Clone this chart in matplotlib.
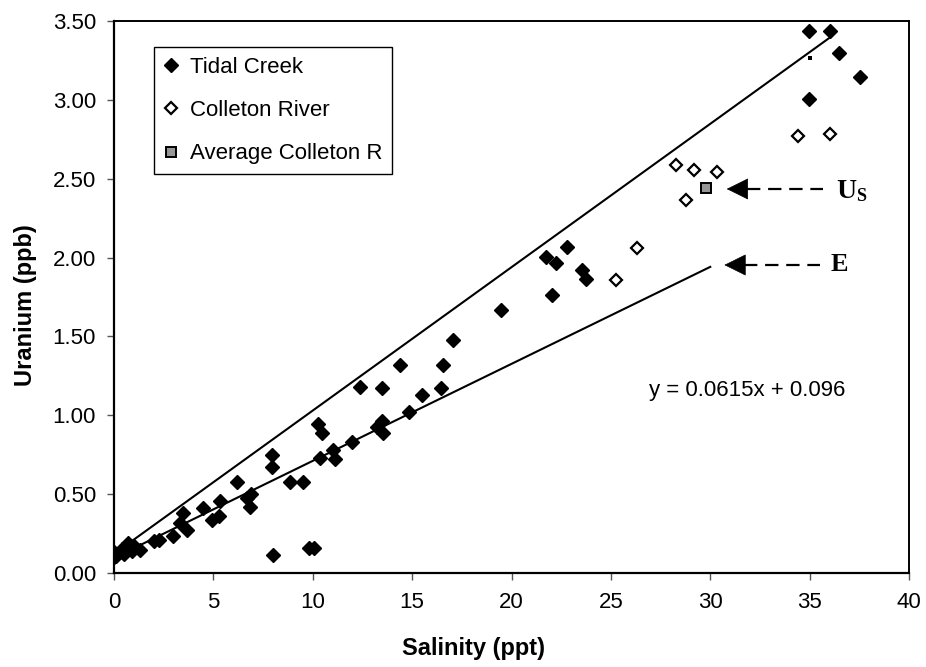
import matplotlib
matplotlib.use("Agg")
import matplotlib.pyplot as plt
from matplotlib.ticker import FormatStrFormatter

plt.rcParams['font.family'] = ['Liberation Sans', 'DejaVu Sans']

# ---------------- data ----------------
tidal_x = [0.0, 0.0, 0.1, 0.3, 0.4, 0.5, 0.6, 0.72, 0.8, 0.9, 1.0, 1.3,
           2.0, 2.25, 2.98, 3.32, 3.49, 3.66, 4.49, 4.95, 5.33, 5.28, 6.17,
           6.68, 6.82, 6.88, 7.93, 7.93, 8.02, 8.86, 9.5, 9.8, 10.08, 10.28,
           10.45, 10.36, 11.0, 11.12, 11.96, 12.38, 13.22, 13.47, 13.55,
           13.47, 14.41, 14.83, 15.48, 16.46, 16.57, 17.07, 19.47, 21.72,
           22.02, 22.24, 22.77, 23.53, 23.75, 34.98, 36.03, 36.49, 37.53,
           34.98]
tidal_y = [0.10, 0.13, 0.11, 0.135, 0.15, 0.12, 0.16, 0.19, 0.15, 0.14,
           0.17, 0.145, 0.20, 0.21, 0.235, 0.315, 0.379, 0.273, 0.415, 0.336,
           0.457, 0.36, 0.575, 0.476, 0.42, 0.50, 0.748, 0.674, 0.114, 0.579,
           0.579, 0.157, 0.157, 0.945, 0.886, 0.727, 0.78, 0.72, 0.833, 1.181,
           0.928, 0.965, 0.886, 1.17, 1.319, 1.024, 1.129, 1.172, 1.319,
           1.477, 1.668, 2.006, 1.763, 1.964, 2.069, 1.921, 1.864, 3.437,
           3.437, 3.30, 3.147, 3.004]

colleton_x = [25.24, 26.3, 28.3, 28.78, 29.18, 30.35, 34.43, 36.03]
colleton_y = [1.858, 2.059, 2.587, 2.365, 2.555, 2.541, 2.771, 2.784]

avg_x = [29.79]
avg_y = [2.439]

stray_x = [35.02]
stray_y = [3.264]

# mixing line (upper) and regression line (lower)
mix_x = [0.3, 36.03]
mix_slope, mix_icept = 0.0909, 0.121
fit_x = [0.0, 30.0]
fit_slope, fit_icept = 0.0615, 0.096
equation = "y = 0.0615x + 0.096"

us_tip = (30.83, 2.435)
us_tail_x = 35.66
e_tip = (30.71, 1.953)
e_tail_x = 35.52

x_ticks = [0, 5, 10, 15, 20, 25, 30, 35, 40]
y_ticks = [0.0, 0.5, 1.0, 1.5, 2.0, 2.5, 3.0, 3.5]

# ---------------- figure ----------------
W, H = 926, 667
fig = plt.figure(figsize=(W / 100, H / 100), dpi=100)
ax = fig.add_axes([114 / W, 1 - 573 / H, (909 - 114) / W, (573 - 21) / H])

ax.set_xlim(0, 40)
ax.set_ylim(0, 3.5)

# lines
ax.plot(mix_x, [mix_slope * v + mix_icept for v in mix_x], color='black', lw=1.5, zorder=2)
ax.plot(fit_x, [fit_slope * v + fit_icept for v in fit_x], color='black', lw=1.5, zorder=2)

# markers
ax.plot(tidal_x, tidal_y, linestyle='none', marker='D', ms=7, mfc='black',
        mec='black', mew=1, label='Tidal Creek', zorder=3)
ax.plot(colleton_x, colleton_y, linestyle='none', marker='D', ms=6.3, mfc='white',
        mec='black', mew=1.6, label='Colleton River', zorder=3)
ax.plot(avg_x, avg_y, linestyle='none', marker='s', ms=7.5, mfc='#969696',
        mec='black', mew=1.4, label='Average Colleton R', zorder=3)
ax.plot(stray_x, stray_y, linestyle='none', marker='s', ms=2.2, mfc='black',
        mec='black', mew=0, zorder=3)

# arrows with dashed tails
for tip, tail_x in [(us_tip, us_tail_x), (e_tip, e_tail_x)]:
    base_x = tip[0] + 1.0
    ax.plot([base_x, tail_x], [tip[1], tip[1]], color='black', lw=1.6,
            dashes=(6, 3.5), zorder=2)
    ax.annotate('', xy=tip, xytext=(base_x + 0.05, tip[1]),
                arrowprops=dict(arrowstyle='-|>,head_length=1.45,head_width=0.72',
                                color='black', lw=0.5, shrinkA=0, shrinkB=0),
                zorder=2)

serif = ['Liberation Serif', 'DejaVu Serif']
ax.text(36.36, us_tip[1] - 0.015, 'U', family=serif, fontweight='bold', fontsize=20,
        ha='left', va='center')
ax.text(37.32, us_tip[1] - 0.045, 'S', family=serif, fontweight='bold', fontsize=13,
        ha='left', va='center')
ax.text(36.05, e_tip[1] + 0.0, 'E', family=serif, fontweight='bold', fontsize=19,
        ha='left', va='center')

ax.text(31.85, 1.16, equation, fontsize=16, ha='center', va='center')

# axes styling
for side in ['left', 'bottom']:
    ax.spines[side].set_linewidth(1.6)
for side in ['top', 'right']:
    ax.spines[side].set_linewidth(1.4)
ax.set_xticks(x_ticks)
ax.set_yticks(y_ticks)
ax.yaxis.set_major_formatter(FormatStrFormatter('%.2f'))
ax.tick_params(axis='both', direction='out', length=5, width=1, color='#555555',
               labelsize=16, pad=8)
ax.tick_params(axis='x', pad=9)

fig.text(474 / W, 1 - 648 / H, 'Salinity (ppt)', fontsize=17, fontweight='bold',
         ha='center', va='center')
fig.text(26 / W, 1 - 305 / H, 'Uranium (ppb)', fontsize=17, fontweight='bold',
         ha='center', va='center', rotation=90)

leg = ax.legend(loc='upper left', bbox_to_anchor=(154 / W, 1 - 47 / H),
                bbox_transform=fig.transFigure, borderaxespad=0, fontsize=16,
                frameon=True, fancybox=False, edgecolor='black', framealpha=1,
                handlelength=0.6, handletextpad=0.55, labelspacing=1.0,
                borderpad=0.45, numpoints=1)
leg.get_frame().set_linewidth(1.0)

fig.savefig('out.png', dpi=100)
